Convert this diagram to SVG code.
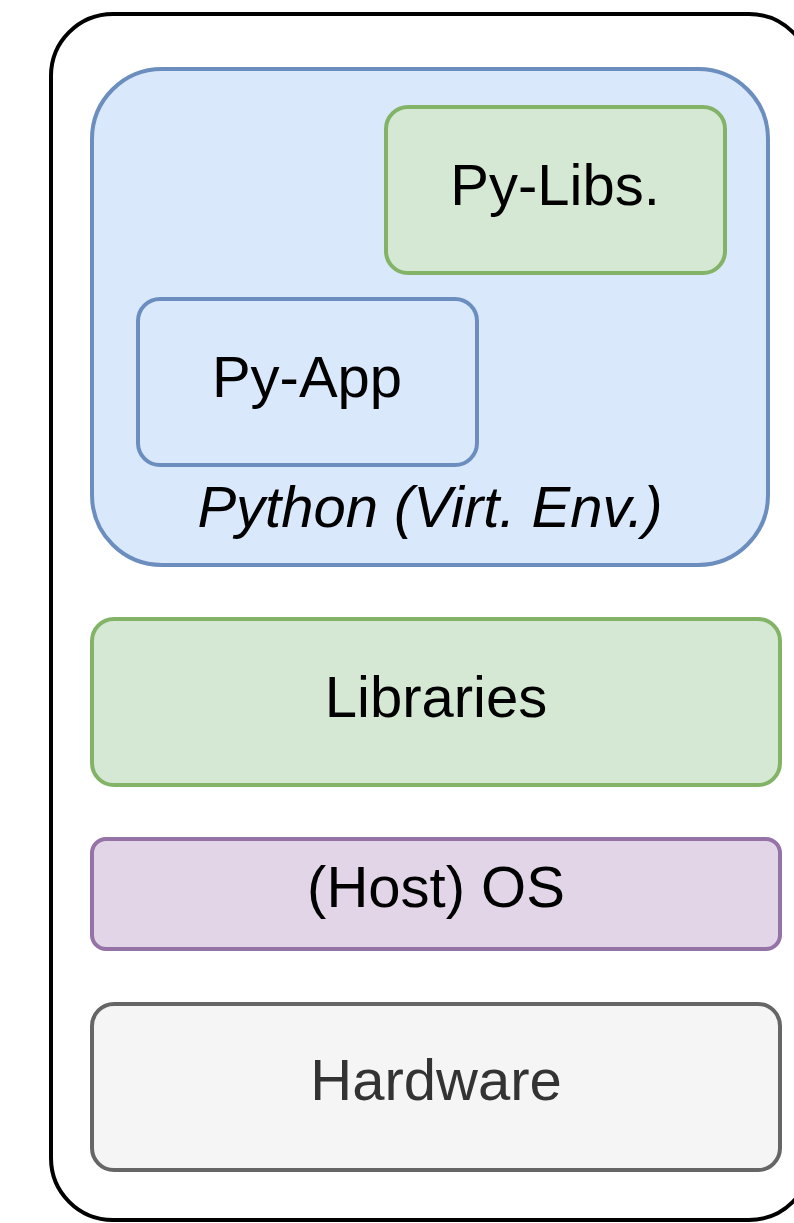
<svg xmlns="http://www.w3.org/2000/svg" width="794" height="1223" viewBox="0 0 794 1223">
<style>
text{font-family:"Liberation Sans",Arial,sans-serif;font-size:58px;text-anchor:middle;fill:#000}
.blue{fill:#dae8fc;stroke:#6c8ebf;stroke-width:4}
.green{fill:#d5e8d4;stroke:#82b366;stroke-width:4}
.purple{fill:#e1d5e7;stroke:#9673a6;stroke-width:4}
.gray{fill:#f5f5f5;stroke:#666666;stroke-width:4}
</style>
<rect width="794" height="1223" fill="#ffffff"/>
<g id="host">
<rect x="51" y="14" width="760" height="1206" rx="62" ry="62" fill="#ffffff" stroke="#000000" stroke-width="4"/>
</g>
<g id="python-env">
<rect class="blue" x="92" y="69" width="676" height="496" rx="70" ry="70"/>
<text x="430" y="527" font-style="italic">Python (Virt. Env.)</text>
</g>
<g id="py-libs">
<rect class="green" x="386" y="107" width="339" height="166" rx="22" ry="22"/>
<text x="555" y="205">Py-Libs.</text>
</g>
<g id="py-app">
<rect class="blue" x="138" y="299" width="339" height="166" rx="22" ry="22"/>
<text x="307" y="397">Py-App</text>
</g>
<g id="libraries">
<rect class="green" x="92" y="619" width="688" height="166" rx="22" ry="22"/>
<text x="436" y="717">Libraries</text>
</g>
<g id="host-os">
<rect class="purple" x="92" y="839" width="688" height="110" rx="14" ry="14"/>
<text x="436" y="907">(Host) OS</text>
</g>
<g id="hardware">
<rect class="gray" x="92" y="1004" width="688" height="166" rx="22" ry="22"/>
<text x="436" y="1100" style="fill:#333333">Hardware</text>
</g>
<g id="connectors"></g>
</svg>
